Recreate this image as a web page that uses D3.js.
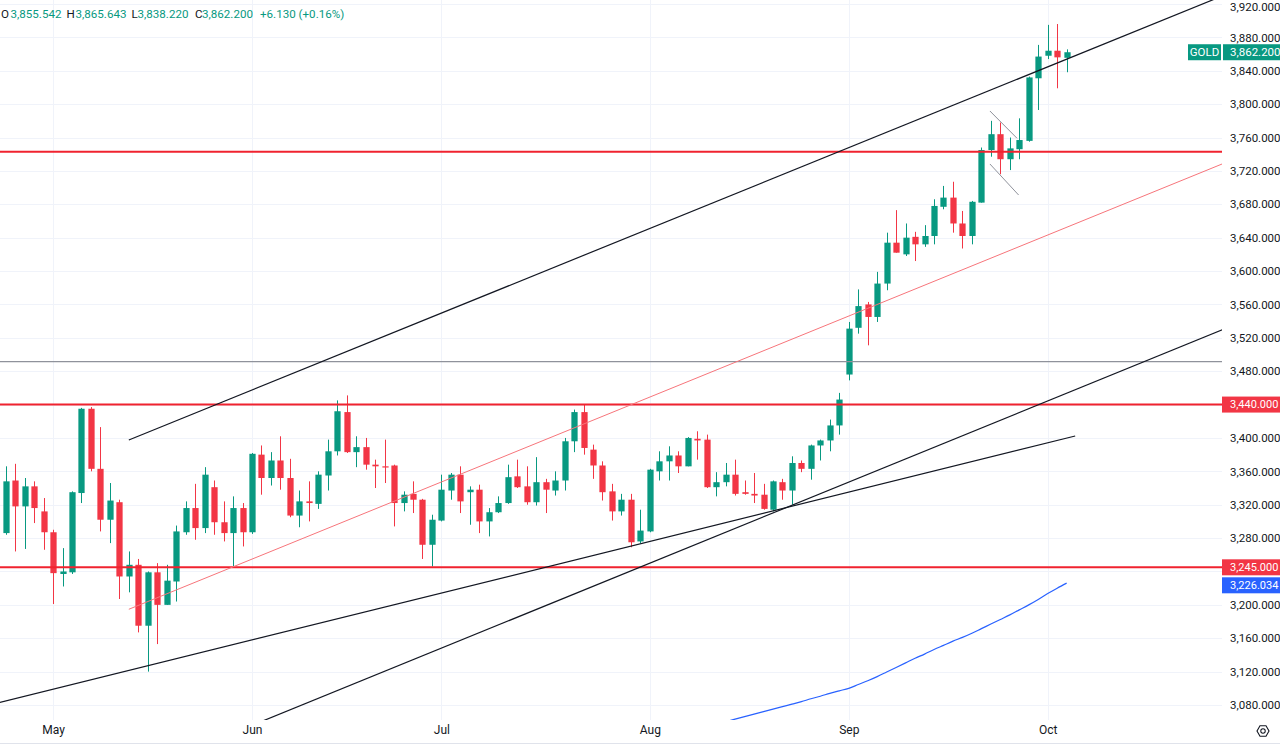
<!DOCTYPE html>
<html><head><meta charset="utf-8">
<script src="https://cdn.jsdelivr.net/npm/d3@7"></script>
<style>
html,body{margin:0;padding:0;background:#fff;overflow:hidden;}
svg{display:block;font-family:Roboto,"Liberation Sans",sans-serif;}
</style></head><body>
<svg id="chart" width="1280" height="747"></svg>
<script>
// ---------------- DATA ----------------
const symbol = "GOLD";
const opens = [3286,3349,3318,3342,3312,3287,3237,3239,3334,3435,3363,3302,3323,3234,3248,3175,3239,3200,3228,3287,
3316,3292,3341,3299,3286,3316,3287,3380,3352,3373,3352,3307,3324,3321,3355,3384,3431,3383,3389,3368,
3366,3367,3322,3333,3326,3272,3301,3337,3356,3335,3338,3300,3311,3322,3354,3342,3323,3347,3337,3349,
3396,3431,3386,3367,3336,3312,3326,3276,3288,3360,3372,3379,3366,3399,3398,3341,3347,3356,3335,3333,
3332,3314,3347,3337,3370,3363,3391,3397,3415,3476,3532,3560,3545,3585,3634,3620,3641,3632,3642,3677,
3688,3657,3642,3682,3745,3764,3734,3746,3756,3831,3858,3864,3855.542];
const highs = [3366,3369,3352,3348,3328,3290,3268,3336,3436,3437,3413,3346,3326,3264,3255,3240,3250,3248,3295,3324,
3345,3365,3349,3324,3330,3322,3382,3391,3383,3402,3375,3337,3348,3360,3398,3445,3451,3402,3400,3374,
3398,3368,3336,3348,3327,3308,3356,3358,3366,3342,3344,3316,3330,3368,3374,3366,3377,3351,3360,3400,
3434,3440,3392,3372,3345,3333,3333,3314,3363,3384,3390,3384,3401,3408,3404,3359,3370,3374,3349,3358,
3345,3349,3351,3378,3373,3392,3398,3422,3454,3539,3578,3563,3599,3646,3673,3657,3647,3655,3686,3702,
3707,3672,3684,3748,3780,3778,3760,3783,3833,3871,3895,3896,3865.643];
const lows = [3284,3264,3267,3298,3266,3201,3222,3237,3322,3360,3288,3274,3207,3215,3167,3120,3153,3200,3204,3284,
3278,3286,3284,3276,3246,3270,3285,3332,3343,3338,3305,3293,3300,3315,3337,3379,3382,3365,3362,3340,
3346,3294,3312,3310,3255,3246,3300,3326,3310,3296,3286,3282,3310,3321,3340,3320,3319,3310,3331,3337,
3383,3380,3351,3325,3301,3307,3269,3274,3287,3349,3349,3358,3366,3374,3340,3330,3342,3331,3332,3322,
3314,3312,3326,3320,3359,3350,3373,3384,3404,3469,3525,3511,3539,3577,3622,3618,3612,3629,3632,3674,
3646,3627,3632,3682,3737,3716,3721,3734,3755,3793,3854,3819,3838.220];
const closes = [3348,3318,3342,3316,3287,3238,3240,3335,3435,3363,3302,3325,3234,3248,3175,3239,3200,3229,3288,3316,
3292,3356,3299,3286,3316,3287,3381,3352,3373,3352,3307,3324,3322,3356,3384,3432,3383,3389,3368,3366,
3365,3322,3332,3326,3272,3302,3338,3356,3324,3338,3300,3311,3322,3353,3341,3323,3347,3338,3349,3396,
3431,3388,3367,3335,3312,3326,3275,3289,3362,3372,3379,3366,3400,3397,3341,3347,3356,3333,3333,3331,
3315,3348,3337,3370,3363,3391,3397,3415,3446,3531,3558,3545,3585,3634,3622,3640,3632,3642,3678,3688,
3657,3642,3683,3745,3764,3734,3747,3757,3832,3857,3864,3856.07,3862.200];

// moving average (blue), starting at candle index maStart
const maStart = 76;
const maValues = [3060,3063,3066,3069,3072,3075,3078,3081,3084,3087.5,3090.5,3094,3097,3100,3104.5,3109,3114,3119.5,
3125,3130.5,3136,3141,3146.5,3151.5,3156.5,3161,3166,3171.5,3177,3182.5,3188,3194,3200,3206.5,3213.5,3220,3226.034];

const priceTicks = d3.range(3080, 3921, 40);
const monthLabels = ["May","Jun","Jul","Aug","Sep","Oct"];
const monthIndex = [5,26,46,68,89,110];

// horizontal levels
const levelValues = [3743, 3491.5, 3440, 3245];
const levelTypes = ["red","gray","red","red"];
const levelLabelled = [false,false,true,true];

// trend lines: anchor points as [candle index, price]
const trendStarts = [[13,3397.5],[13,3194.7],[8.9,3109.9],[27.9,3064.4],[103.9,3791.8],[103.9,3728.3]];
const trendEnds   = [[124,3909.2],[124,3707.9],[112.9,3402.3],[128.4,3529.4],[106.76,3759.1],[106.93,3691.1]];
const trendExtend = ["right","right","left","both","none","none"];
const trendTypes  = ["black","salmon","black","black","gray","gray"];

// ---------------- STYLE / LAYOUT ----------------
const W = 1222, H = 720;
const up = "#089981", down = "#f23645";
const colors = {black:"#131722", salmon:"#f7757b", gray:"#8f929b", red:"#f0232f", blue:"#2962ff"};

const svg = d3.select("#chart");
const x = d3.scaleLinear().domain([-0.6, 128.4]).range([0, W]);
const y = d3.scaleLinear().domain([3080, 3920]).range([705, 4]);

svg.append("defs").append("clipPath").attr("id","plot")
  .append("rect").attr("x",0).attr("y",0).attr("width",W).attr("height",H);

// grid
const grid = svg.append("g");
grid.selectAll("line.h").data(priceTicks).join("line")
  .attr("x1",0).attr("x2",W)
  .attr("y1",d=>Math.round(y(d))+0.5).attr("y2",d=>Math.round(y(d))+0.5)
  .attr("stroke","#f0f3fa").attr("stroke-width",1);
grid.selectAll("line.v").data(monthIndex).join("line")
  .attr("y1",0).attr("y2",H)
  .attr("x1",d=>Math.round(x(d))+0.5).attr("x2",d=>Math.round(x(d))+0.5)
  .attr("stroke","#f0f3fa").attr("stroke-width",1);

const plot = svg.append("g").attr("clip-path","url(#plot)");

// MA
const maData = maValues.map((v,k)=>[maStart+k, v]);
plot.append("path").datum(maData)
  .attr("d", d3.line().x(d=>x(d[0])).y(d=>y(d[1])).curve(d3.curveMonotoneX))
  .attr("fill","none").attr("stroke",colors.blue).attr("stroke-width",1.2);

// candles
const idx = d3.range(opens.length);
const step = x(1)-x(0);
const bw = Math.max(1, step*0.66);
const cg = plot.append("g");
cg.selectAll("line.wick").data(idx).join("line")
  .attr("x1",i=>Math.round(x(i))+0.5).attr("x2",i=>Math.round(x(i))+0.5)
  .attr("y1",i=>y(highs[i])).attr("y2",i=>y(lows[i]))
  .attr("stroke",i=>closes[i]>=opens[i]?up:down).attr("stroke-width",1);
cg.selectAll("rect.body").data(idx).join("rect")
  .attr("x",i=>Math.round(x(i))+0.5-bw/2)
  .attr("width",bw)
  .attr("y",i=>y(Math.max(opens[i],closes[i])))
  .attr("height",i=>Math.max(1.2, Math.abs(y(opens[i])-y(closes[i]))))
  .attr("fill",i=>closes[i]>=opens[i]?up:down);

// horizontal levels
levelValues.forEach((v,k)=>{
  const red = levelTypes[k]==="red";
  plot.append("line").attr("x1",0).attr("x2",W)
    .attr("y1",y(v)).attr("y2",y(v))
    .attr("stroke", red?colors.red:colors.gray)
    .attr("stroke-width", red?2:1.3);
});

// trend lines
trendStarts.forEach((s,k)=>{
  const e = trendEnds[k];
  const slope = (e[1]-s[1])/(e[0]-s[0]);
  let a = s, b = e;
  const ext = trendExtend[k];
  if (ext==="right"||ext==="both") b = [140, s[1]+slope*(140-s[0])];
  if (ext==="left"||ext==="both") a = [-5, s[1]+slope*(-5-s[0])];
  plot.append("line")
    .attr("x1",x(a[0])).attr("y1",y(a[1]))
    .attr("x2",x(b[0])).attr("y2",y(b[1]))
    .attr("stroke",colors[trendTypes[k]])
    .attr("stroke-width", trendTypes[k]==="black"?1.2:1);
});

// bottom border
svg.append("line").attr("x1",0).attr("x2",1280).attr("y1",743.5).attr("y2",743.5)
  .attr("stroke","#e0e3eb");

// price-axis tag positions (with simple collision avoidance)
const last = closes.length-1;
const labelItems = [];
levelValues.forEach((v,k)=>{ if(levelLabelled[k]) labelItems.push({v, fill:down}); });
labelItems.push({v:maValues[maValues.length-1], fill:colors.blue});
labelItems.sort((a,b)=>b.v-a.v);
let prevCy = -Infinity;
labelItems.forEach(it=>{
  let cy = y(it.v);
  if (cy < prevCy+18) { const mid=(prevCy+cy)/2; cy = prevCy+18; }
  it.cy = cy; prevCy = cy;
});
const tagYs = labelItems.map(d=>d.cy).concat([y(closes[last])]);

// price axis
const yAxis = svg.append("g").attr("transform",`translate(${W},0)`)
  .call(d3.axisRight(y).tickValues(priceTicks).tickFormat(d3.format(",.3f")).tickSize(0).tickPadding(8));
yAxis.select(".domain").remove();
yAxis.selectAll("text").attr("fill","#131722").style("font-size","11.5px").style("font-family","Roboto, sans-serif");
// hide tick labels covered by tags
yAxis.selectAll(".tick").filter(d=>tagYs.some(t=>Math.abs(t-y(d))<12)).remove();
// keep the top tick label inside the picture
yAxis.selectAll(".tick").filter(d=>y(d)<8).select("text").attr("dy","0.8em").attr("y",-3);

// time axis
const xAxis = svg.append("g").attr("transform",`translate(0,${H})`)
  .call(d3.axisBottom(x).tickValues(monthIndex).tickFormat((d,k)=>monthLabels[k]).tickSize(0).tickPadding(5));
xAxis.select(".domain").remove();
xAxis.selectAll("text").attr("fill","#131722").style("font-size","12px").style("font-family","Roboto, sans-serif");

labelItems.forEach(it=>{
  const g = svg.append("g");
  g.append("rect").attr("x",W).attr("y",it.cy-8).attr("width",1280-W).attr("height",16).attr("fill",it.fill);
  g.append("text").attr("x",W+8).attr("y",it.cy).attr("dy","0.35em")
    .attr("fill","#fff").style("font-size","11px").text(d3.format(",.3f")(it.v));
});
const ly = y(closes[last]);
svg.append("rect").attr("x",W+1).attr("y",ly-8).attr("width",1280-W-1).attr("height",16).attr("fill",up);
svg.append("text").attr("x",W+8).attr("y",ly).attr("dy","0.35em")
  .attr("fill","#fff").style("font-size","11.5px").text(d3.format(",.3f")(closes[last]));
// symbol tag
svg.append("rect").attr("x",1188).attr("y",ly-8).attr("width",W-1188-1).attr("height",16).attr("fill",up);
svg.append("text").attr("x",1188+(W-1-1188)/2).attr("y",ly).attr("dy","0.35em").attr("text-anchor","middle")
  .attr("fill","#fff").style("font-size","11.5px").text(symbol);

// header legend
const prevClose = closes[last-1];
const chg = closes[last]-prevClose;
const f3 = d3.format(",.3f");
const parts = [["O","#131722",1],[f3(opens[last]),up,10.5],["H","#131722",66.5],[f3(highs[last]),up,75.5],
  ["L","#131722",131.5],[f3(lows[last]),up,137.5],["C","#131722",195],[f3(closes[last]),up,202],
  [(chg>=0?"+":"")+d3.format(".3f")(chg)+" ("+(chg>=0?"+":"")+d3.format(".2f")(chg/prevClose*100)+"%)", up, 260]];
const hdr = svg.append("g");
parts.forEach(p=>hdr.append("text").attr("x",p[2]).attr("y",17.5).attr("fill",p[1]).style("font-size","11.6px").text(p[0]));

// settings icon
const ic = svg.append("g").attr("transform","translate(1263,731)");
ic.append("path").attr("d", d3.range(6).map(k=>{const a=Math.PI/3*k; return (k?"L":"M")+(6*Math.cos(a)).toFixed(2)+","+(6*Math.sin(a)).toFixed(2);}).join("")+"Z")
  .attr("fill","none").attr("stroke","#131722").attr("stroke-width",1.1);
ic.append("circle").attr("r",2.2).attr("fill","none").attr("stroke","#131722").attr("stroke-width",1.1);
</script>
</body></html>
